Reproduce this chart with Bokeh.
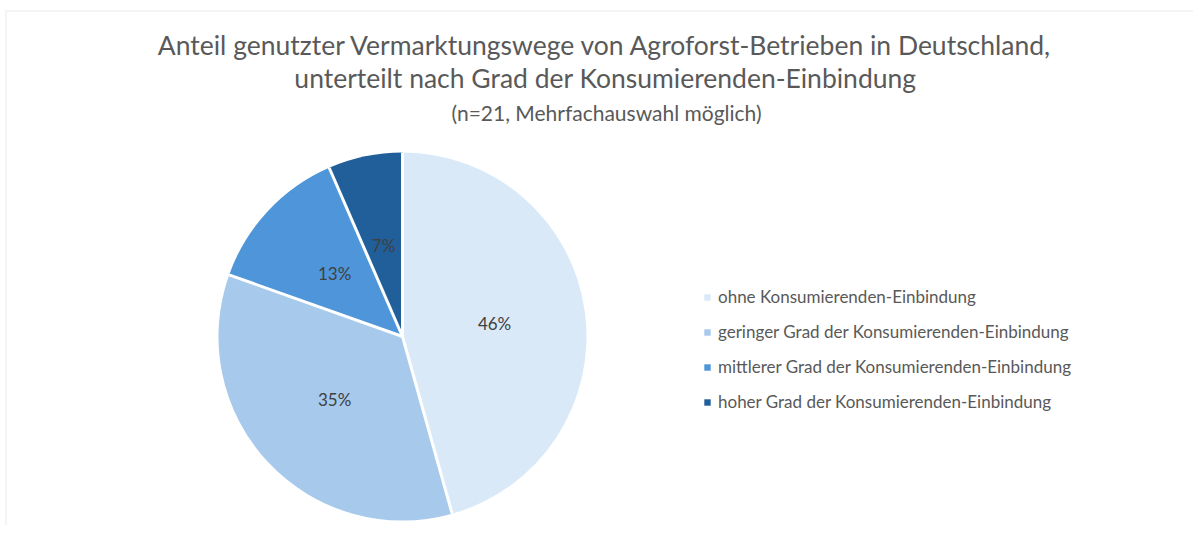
import numpy as np
from bokeh.plotting import figure
from bokeh.models import ColumnDataSource, Range1d, Legend, LegendItem, BoxAnnotation
from bokeh.core.properties import value
from bokeh.embed import file_html
from bokeh.resources import INLINE

# ---- data ----
categories = [
    "ohne Konsumierenden-Einbindung",
    "geringer Grad der Konsumierenden-Einbindung",
    "mittlerer Grad der Konsumierenden-Einbindung",
    "hoher Grad der Konsumierenden-Einbindung",
]
counts = [21, 16, 6, 3]
colors = ["#DAE9F8", "#A6C9EC", "#4E95D9", "#215F9A"]
title_lines = [
    "Anteil genutzter Vermarktungswege von Agroforst-Betrieben in Deutschland,",
    "unterteilt nach Grad der Konsumierenden-Einbindung",
]
subtitle = "(n=21, Mehrfachauswahl möglich)"

FONT = "Lato"
W, H = 1193, 525

def py(y):  # screen y -> data y
    return H - y

CX, CY, R = 402, py(336), 184

total = float(sum(counts))
frac = np.array(counts) / total
cum = np.concatenate([[0.0], np.cumsum(frac)])
start = np.pi / 2 - 2 * np.pi * cum[:-1]
end = np.pi / 2 - 2 * np.pi * cum[1:]
mid = (start + end) / 2
lr = 0.505 * R

src = ColumnDataSource(dict(
    cat=categories, start=start, end=end, color=colors,
    lx=CX + lr * np.cos(mid), ly=CY + lr * np.sin(mid),
    lab=[f"{round(f * 100)}%" for f in frac],
    sx1=CX + R * np.cos(start), sy1=CY + R * np.sin(start),
))

p = figure(width=W, height=H, x_range=Range1d(0, W), y_range=Range1d(0, H),
           output_backend="svg", toolbar_location=None, min_border=0)
p.axis.visible = False
p.grid.visible = False
p.outline_line_color = None
p.background_fill_color = "white"

# outer frame of chart area
p.add_layout(BoxAnnotation(left=5.5, right=1400, top=py(10.5), bottom=-100,
                           fill_alpha=0, line_color="#D9D9D9", line_width=2))

wedges = p.wedge(x=CX, y=CY, radius=R, start_angle="start", end_angle="end",
                 direction="clock", fill_color="color", line_color=None, source=src)
p.segment(x0=CX, y0=CY, x1="sx1", y1="sy1", line_color="white", line_width=3, source=src)

p.text(x="lx", y="ly", text="lab", source=src, text_align="center", text_baseline="middle",
       text_font=value(FONT), text_font_size="17px", text_color="#404040")

# titles
p.text(x=[605, 605], y=[py(44), py(77)], text=title_lines, text_align="center",
       text_baseline="alphabetic", text_font=value(FONT), text_font_size="26.5px",
       text_color="#595959")
p.text(x=[606], y=[py(112)], text=[subtitle], text_align="center",
       text_baseline="alphabetic", text_font=value(FONT), text_font_size="21px",
       text_color="#595959")

items = [LegendItem(label=c, renderers=[wedges], index=i) for i, c in enumerate(categories)]
legend = Legend(items=items, location=(703, 113), padding=0, margin=0,
                glyph_width=8, glyph_height=8, label_standoff=7, label_height=20,
                spacing=14, label_text_font=FONT, label_text_font_size="17px",
                label_text_color="#595959", border_line_color=None,
                background_fill_alpha=0)
p.add_layout(legend)

open("out.html", "w").write(file_html(p, INLINE))
